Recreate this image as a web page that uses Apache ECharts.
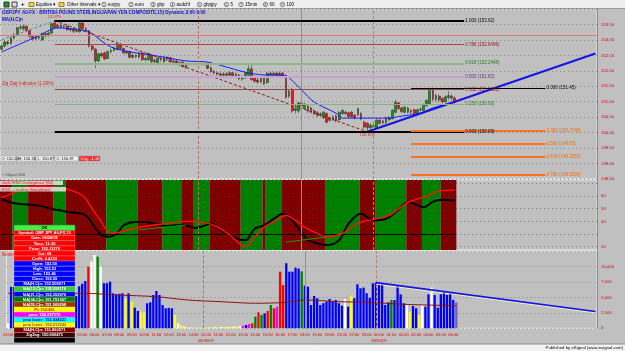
<!DOCTYPE html>
<html>
<head>
<meta charset="utf-8">
<script src="https://cdn.jsdelivr.net/npm/echarts@6/dist/echarts.min.js"></script>
<style>
html, body { margin: 0; padding: 0; background: #c0c0c0; }
#chart { width: 625px; height: 351px; }
</style>
</head>
<body>
<div id="chart"></div>
<script>
// ---- time axis: two sessions of 15 minute bars, then empty future space
const sessionHours = [
    ['23', '00', '01', '02', '03', '04', '05', '06', '07', '08', '09', '10', '11', '12', '13', '14'],
    ['10', '11', '12', '13', '14', '15', '16', '17', '18', '19', '20', '21', '22', '23', '00', '01', '02', '03', '04', '05', '06']
];
const quarters = ['00', '15', '30', '45'];
const dateLabels = ['08/30/09', '08/31/09'];
const futureBars = 45;

// ---- price candles [open, close, low, high]
const candles = [
    [152.70, 152.80, 152.65, 152.86], [152.80, 152.93, 152.76, 152.98], [152.93, 152.88, 152.82, 152.97], [152.88, 153.06, 152.85, 153.10],
    [153.06, 153.16, 153.02, 153.22], [153.16, 153.39, 153.12, 153.42], [153.39, 153.42, 153.32, 153.48], [153.36, 153.44, 153.30, 153.50],
    [153.44, 153.30, 153.26, 153.47], [153.30, 153.12, 153.06, 153.33], [153.12, 153.03, 152.98, 153.16], [153.03, 153.10, 153.00, 153.16],
    [153.10, 153.06, 153.00, 153.14], [153.00, 153.20, 152.97, 153.24], [153.20, 153.14, 153.08, 153.24], [153.14, 153.22, 153.10, 153.28],
    [153.22, 153.52, 153.20, 153.55], [153.55, 153.40, 153.36, 153.62], [153.40, 153.48, 153.36, 153.53], [153.48, 153.42, 153.36, 153.52],
    [153.42, 153.45, 153.38, 153.50], [153.45, 153.33, 153.30, 153.48], [153.33, 153.36, 153.26, 153.40], [153.36, 153.28, 153.22, 153.40],
    [153.28, 153.30, 153.24, 153.36], [153.26, 153.55, 153.24, 153.60], [153.55, 153.36, 153.32, 153.58], [153.36, 153.30, 153.25, 153.42],
    [153.30, 152.80, 152.75, 153.32], [152.80, 152.70, 152.62, 152.86], [152.70, 152.32, 152.09, 152.74], [152.32, 152.55, 152.28, 152.58],
    [152.55, 152.48, 152.43, 152.60], [152.58, 152.38, 152.35, 152.62], [152.40, 152.62, 152.38, 152.66], [152.62, 152.66, 152.56, 152.72],
    [152.66, 152.74, 152.62, 152.78], [152.70, 152.86, 152.66, 152.92], [152.86, 152.72, 152.68, 152.90], [152.72, 152.58, 152.54, 152.76],
    [152.58, 152.62, 152.52, 152.66], [152.62, 152.44, 152.40, 152.66], [152.44, 152.50, 152.40, 152.56], [152.50, 152.46, 152.40, 152.54],
    [152.44, 152.58, 152.40, 152.62], [152.58, 152.36, 152.32, 152.60], [152.36, 152.40, 152.30, 152.44], [152.36, 152.56, 152.32, 152.60],
    [152.50, 152.30, 152.24, 152.54], [152.30, 152.34, 152.22, 152.40], [152.26, 152.40, 152.22, 152.44], [152.40, 152.36, 152.30, 152.45],
    [152.30, 152.44, 152.26, 152.48], [152.44, 152.38, 152.32, 152.48], [152.42, 152.30, 152.26, 152.45], [152.30, 152.32, 152.24, 152.38],
    [152.32, 152.26, 152.20, 152.36], [152.26, 152.24, 152.18, 152.30], [152.28, 152.14, 152.10, 152.32], [152.20, 152.10, 152.06, 152.24],
    [152.20, 152.21, 152.17, 152.25], [152.21, 152.22, 152.18, 152.25], [152.22, 152.21, 152.19, 152.24], [152.21, 152.22, 152.19, 152.25],
    [152.22, 152.22, 152.18, 152.26], [152.22, 152.20, 152.17, 152.25], [152.22, 152.08, 152.05, 152.26], [152.10, 151.96, 151.93, 152.14],
    [151.98, 151.93, 151.88, 152.04], [151.93, 151.90, 151.84, 151.98], [151.90, 151.86, 151.80, 151.96], [151.86, 151.90, 151.82, 151.96],
    [151.90, 151.86, 151.82, 151.96], [151.86, 151.94, 151.84, 151.98], [151.94, 151.84, 151.80, 151.96], [151.84, 151.90, 151.78, 151.94],
    [151.86, 151.74, 151.70, 151.90], [151.74, 151.80, 151.68, 151.84], [151.77, 151.93, 151.74, 151.96], [151.86, 152.07, 151.84, 152.18],
    [152.06, 151.72, 151.68, 152.19], [151.80, 151.66, 151.62, 151.84], [151.70, 151.64, 151.58, 151.80], [151.64, 151.80, 151.60, 151.84],
    [151.77, 151.58, 151.54, 151.80], [151.62, 151.92, 151.58, 151.96], [151.92, 151.88, 151.82, 151.98], [151.88, 151.92, 151.84, 151.98],
    [151.92, 151.86, 151.78, 151.97], [151.86, 151.92, 151.82, 151.98], [151.92, 151.82, 151.78, 151.96], [151.85, 151.14, 151.10, 151.88],
    [151.18, 151.34, 151.12, 151.40], [151.40, 150.70, 150.64, 151.44], [150.72, 150.78, 150.62, 150.92], [150.70, 150.96, 150.63, 151.00],
    [150.96, 150.86, 150.82, 151.00], [150.78, 150.92, 150.74, 150.96], [150.86, 150.70, 150.64, 150.90], [150.80, 150.66, 150.62, 150.84],
    [150.70, 150.62, 150.56, 150.76], [150.64, 150.56, 150.50, 150.70], [150.56, 150.60, 150.52, 150.66], [150.48, 150.66, 150.44, 150.70],
    [150.62, 150.34, 150.30, 150.66], [150.40, 150.48, 150.36, 150.52], [150.50, 150.44, 150.38, 150.56], [150.54, 150.38, 150.34, 150.58],
    [150.42, 150.66, 150.40, 150.70], [150.62, 150.72, 150.58, 150.76], [150.66, 150.62, 150.56, 150.72], [150.64, 150.52, 150.48, 150.68],
    [150.66, 150.52, 150.46, 150.70], [150.56, 150.48, 150.42, 150.60], [150.58, 150.78, 150.54, 150.80], [150.62, 150.44, 150.40, 150.66],
    [150.34, 150.18, 150.12, 150.38], [150.30, 150.16, 150.03, 150.34], [150.16, 150.24, 150.10, 150.30], [150.22, 150.18, 150.08, 150.28],
    [150.16, 150.40, 150.12, 150.44], [150.40, 150.30, 150.26, 150.44], [150.38, 150.32, 150.26, 150.42], [150.32, 150.48, 150.28, 150.52],
    [150.48, 150.42, 150.38, 150.54], [150.46, 150.72, 150.42, 150.76], [150.66, 150.98, 150.62, 151.06], [150.96, 150.78, 150.74, 151.00],
    [150.80, 150.68, 150.64, 150.84], [150.66, 150.82, 150.62, 150.86], [150.80, 150.66, 150.62, 150.84], [150.66, 150.72, 150.60, 150.76],
    [150.74, 150.62, 150.58, 150.78], [150.60, 150.74, 150.56, 150.78], [150.74, 150.76, 150.68, 150.82], [150.72, 150.90, 150.68, 150.94],
    [150.88, 151.04, 150.84, 151.08], [150.94, 151.42, 150.90, 151.45], [151.42, 151.08, 151.02, 151.45], [151.08, 151.20, 151.00, 151.26],
    [151.18, 151.06, 150.98, 151.24], [151.10, 151.00, 150.94, 151.16], [151.00, 151.16, 150.96, 151.20], [151.14, 151.20, 151.06, 151.34],
    [151.18, 151.12, 151.04, 151.24], [151.12, 150.98, 150.94, 151.18]
];

// ---- price overlays, as [bar, price] vertices
const maPoints = [[0, 152.61], [11, 153.09], [18, 153.39], [25, 153.32], [28, 153.26], [35, 152.77], [43, 152.58], [48, 152.51],
    [59, 152.32], [66, 152.28], [79, 151.93], [86, 151.86], [90, 151.86], [92, 151.77], [96, 151.38], [100, 150.99], [107, 150.63],
    [109, 150.47], [115, 150.47], [124, 150.47], [127, 150.52], [134, 150.63], [138, 150.80], [145, 150.99]];
const zigzagPrev = [[0, 153.00], [17, 153.62]];
const zigzagLeg = [[17, 153.62], [117, 150.03]];
const zigzagTexts = ['51.07%', '150.30%'];
const priceTrend = [[117, 150.03], [190, 152.56]];
const priorHigh = 153.16;

// ---- fibonacci retracements
const fibLeftRange = [17, 148];
const fibLeftRatios = ['1.000', '0.786', '0.618', '0.500', '0.382', '0.250', '0.000'];
const fibLeftPrices = [153.62, 152.8496, 152.2448, 151.82, 151.3952, 150.93, 150.03];
const fibRightRange = [131, 174];
const fibRightRatios = ['0.000', '0.382', '0.500', '0.618', '0.786'];
const fibRightPrices = [151.45, 150.0748, 149.65, 149.2252, 148.6294];

// ---- RSX panel
const rsxBlack = [[0, 57.6], [3, 54.9], [6, 53.7], [10, 52.9], [13, 51.8], [16, 49.8], [19, 48.5], [22, 47.2], [26, 45.9], [28, 42.0],
    [30, 34.3], [32, 29.1], [34, 27.8], [37, 30.4], [39, 36.8], [43, 39.4], [46, 39.4], [49, 38.2], [53, 36.3], [58, 37.4], [62, 34.8],
    [65, 36.8], [67, 38.2], [70, 33.0], [75, 26.5], [78, 25.2], [81, 34.3], [84, 36.8], [87, 42.0], [90, 45.9], [93, 40.7], [96, 31.0],
    [98, 25.2], [101, 22.6], [104, 21.3], [108, 25.2], [111, 38.2], [115, 45.9], [117, 43.3], [119, 40.7], [123, 42.0], [126, 47.2],
    [130, 54.9], [133, 52.9], [135, 51.1], [138, 55.5], [141, 57.0], [145, 56.41]];
const rsxRed = [[0, 58.8], [4, 62.7], [7, 66.6], [11, 67.9], [16, 67.4], [21, 65.3], [26, 60.1], [29, 49.8], [32, 39.4], [35, 30.4],
    [38, 31.6], [43, 34.8], [48, 36.8], [53, 38.2], [59, 40.0], [64, 39.4], [68, 36.8], [73, 29.1], [78, 20.0], [81, 27.8], [84, 35.5],
    [87, 39.4], [91, 44.6], [94, 40.7], [97, 35.5], [100, 31.6], [104, 27.8], [109, 30.4], [112, 35.5], [115, 39.4], [119, 41.5],
    [124, 44.6], [127, 49.8], [130, 54.9], [133, 57.6], [136, 59.6], [140, 64.0], [145, 64.61]];
// first bar of each trend zone, and whether the zone is bullish
const zoneStarts = [0, 4, 9, 17, 21, 34, 44, 52, 58, 62, 67, 77, 84, 85, 90, 104, 115, 120, 130, 135, 141];
const zoneBull = [0, 1, 0, 1, 0, 1, 0, 1, 0, 1, 0, 1, 0, 1, 0, 1, 0, 1, 0, 1, 0];
const rsxLevels = [20, 30, 40, 50, 60, 70];
const rsxTicks = [20, 40, 50, 60];
const divergences = [[[44, 33.3], [59, 37.2]], [[91, 23.6], [106, 28.3]]];

// ---- volume panel
const volumes = [800, 6700, 6700, 6900, 9200, 6200, 5400, 8000, 6600, 5200, 4800, 6100, 5600, 7200, 5900, 6800, 8200, 9400, 7600, 6400,
    5800, 6000, 5200, 6800, 7200, 7650, 9970, 10800, 11860, 11590, 9970, 7280, 7280, 7540, 5660, 5500, 5580, 5660, 4850, 5660,
    4300, 3340, 2800, 2690, 2590, 4050, 4200, 5390, 6040, 5390, 3770, 3240, 3300, 3240, 2150, 810, 530, 260, 150, 120,
    80, 60, 100, 90, 150, 120, 200, 180, 160, 220, 240, 200, 260, 300, 320, 380, 420, 530, 700, 800,
    1880, 2590, 2150, 2430, 2800, 3770, 3240, 3500, 9160, 7010, 10520, 9160, 9160, 9800, 9650, 9210, 6900, 6730, 3770, 5230,
    4850, 3770, 4050, 4300, 4740, 4420, 4580, 4050, 3660, 4740, 3500, 5280, 4850, 7120, 6470, 6580, 5660, 4950, 7280, 7380,
    7120, 7120, 3770, 4200, 4580, 4580, 6900, 5500, 4050, 3770, 2690, 3610, 3240, 2150, 3770, 3500, 5500, 6580, 5390, 3340,
    5500, 5990, 5390, 5660, 4600, 4200];
const volKinds = 'wbbbgbbbbbbbbbbbbbbbbbbbbbrwwgwbbbbbbbybybbyybbbbbbbbbywywywywywywywywywywywmbmrgrgbrgrmrrbbbbbgbbbbbbbbbbbbbwbybbbbbbbbbbbbgbbbbwybbywbbwbbbbbbb';
const volMaPoints = [[0, 5660], [25, 5660], [35, 5390], [48, 5110], [58, 4580], [69, 4300], [80, 4050], [90, 4200], [96, 4580],
    [107, 4300], [117, 4200], [128, 3880], [145, 3647.93]];
const volTrend = [[119, 7380], [190, 2720]];
const volTrendShadow = [[119, 7150], [190, 2500]];

// ---- cursor readout window
const popupRows = [
    ['Symbol: GBP JPY A0-FX,15', '#ff0000', '#ffffff'], ['Date: 08/28/09', '#ff0000', '#ffffff'],
    ['Time: 11:30', '#ff0000', '#ffffff'], ['Price: 152.11270', '#ff0000', '#ffffff'],
    ['Cnt: 69', '#ff0000', '#ffffff'], ['Cnt%: 0.4223', '#ff0000', '#ffffff'],
    ['Open: 152.50', '#0000ff', '#ffffff'], ['High: 152.53', '#0000ff', '#ffffff'],
    ['Low: 152.46', '#0000ff', '#ffffff'], ['Close: 152.50', '#0000ff', '#ffffff'],
    ['MA(H,C)n: 152.508571', '#0000ff', '#ffffff'], ['MA(13,C)n: 152.591176', '#33cc33', '#ffffff'],
    ['MA(21,C)n: 152.352976', '#0000ff', '#ffffff'], ['MA(34,C)n: 151.751367', '#007700', '#ffffff'],
    ['MA(55,C)n: 151.569298', '#993300', '#ffffff'], ['Pi: 152.461', '#ffff00', '#ff0000'],
    ['pma: 152.537176', '#ff00ff', '#ffffff'], ['pma lower: 152.834023', '#00ffff', '#000080'],
    ['pma lower: 152.613542', '#ffff00', '#806000'], ['MA(H,C)n: 151.860571', '#800000', '#ffffff'],
    ['ZigZag: 150.690473', '#400000', '#ffffff'], ['', '#000000', '#ffffff']
];
const ohlcStrip = ['O: 150.24', 'H: 150.26', 'L: 150.87', 'C: 150.87', 'Chg: -1.36'];
const toolbarItems = ['eurjpy', 'euro', 'gbp', 'audchf', 'gbpjpy', '5', '15min', '60', '100'];

// ---------------------------------------------------------------------------
const FONT = 'Liberation Sans, Arial, sans-serif';
const RED_TXT = '#dd0000';

// Build categories
const categories = [];
sessionHours.forEach(hours => hours.forEach(h => quarters.forEach(q => categories.push(h + ':' + q))));
categories.length = candles.length;
const session2 = sessionHours[0].length * 4;
const midnight = categories.indexOf('00:00', session2);
const dateAt = {};
dateAt[session2] = dateLabels[0];
dateAt[midnight] = dateLabels[1];
for (let i = 0; i < futureBars; i++) categories.push('');

const sessionBreak = session2 - 1;
const dayLine = midnight - 1;
const cursorBar = 96;
const lastIdx = candles.length - 1;

// vertical separators used in every panel
function verticalMarks() {
    return [
        { xAxis: sessionBreak, lineStyle: { type: [3, 2], color: '#b86a6a', width: 1 }, label: { show: false } },
        { xAxis: dayLine, lineStyle: { type: [3, 2], color: '#b08080', width: 1 }, label: { show: false } },
        { xAxis: cursorBar, lineStyle: { type: 'solid', color: '#a08c8c', width: 1 }, label: { show: false } }
    ];
}

// coloured value box on the right axis
function axisBox(value, text, bg, fg, dist) {
    return {
        yAxis: value,
        lineStyle: { opacity: 0 },
        label: {
            show: true, position: 'end', formatter: text, backgroundColor: bg, color: fg || '#ffffff',
            fontSize: 4.3, fontFamily: FONT, padding: [1, 1, 0, 1], distance: dist || 1
        }
    };
}

function fibLine(range, price, ratio, color, width, labelColor) {
    return [
        {
            coord: [range[0], price],
            lineStyle: { color: color, width: width, type: 'solid' },
            label: {
                show: true, position: 'end', formatter: ratio + ' (' + price + ')', color: labelColor,
                fontSize: 4.5, fontFamily: FONT, padding: [0, 0, 6, 0], distance: 1
            }
        },
        { coord: [range[1], price] }
    ];
}

const fibLeftStyles = [
    ['#000000', 2, '#000000'], ['#a04848', 1, '#8b1a1a'], ['#86ba86', 2, '#2a7a2a'], ['#c8a0d2', 2, '#7a2a8a'],
    ['#904848', 1, '#8b1a1a'], ['#86b086', 1.2, '#2a7a2a'], ['#000000', 2, '#000000']
];
const fibMarks = [];
fibLeftPrices.forEach((p, i) => fibMarks.push(fibLine(fibLeftRange, p, fibLeftRatios[i], fibLeftStyles[i][0], fibLeftStyles[i][1], fibLeftStyles[i][2])));
fibRightPrices.forEach((p, i) => {
    const black = fibRightRatios[i] === '0.000';
    fibMarks.push(fibLine(fibRightRange, p, fibRightRatios[i], black ? '#000000' : '#ff7020', black ? 1 : 2, black ? '#000000' : '#ff6a00'));
});

const volColorMap = { b: '#0000ff', w: '#ffffff', y: '#ffff00', r: '#ff0000', g: '#008000', m: '#ff00ff' };
const volumeData = volumes.map((v, i) => ({ value: v, itemStyle: { color: volColorMap[volKinds[i]] } }));

// zones as [firstBar, lastBar, bullish]
const zoneData = zoneStarts.map((s, k) => [s, k + 1 < zoneStarts.length ? zoneStarts[k + 1] - 1 : lastIdx, zoneBull[k]]);

const fmtThousands = v => Math.round(v).toString().replace(/\B(?=(\d{3})+(?!\d))/g, ',');

const xBase = {
    type: 'category', data: categories, boundaryGap: true,
    axisLine: { show: false }, axisTick: { show: false }, splitLine: { show: false }
};
const dotted = { show: true, lineStyle: { color: '#8c8c8c', type: [1, 3], width: 1 } };
const yLabel = { color: RED_TXT, fontSize: 4.3, fontFamily: FONT, margin: 4 };
const yLine = { show: true, lineStyle: { color: '#e06464', width: 1 } };

// ---- graphics: toolbar, title texts, readout window, footer
const graphics = [];
graphics.push({ type: 'rect', shape: { x: 0, y: 0, width: 625, height: 9 }, style: { fill: '#eeeeee' }, z: 50 });
graphics.push({ type: 'line', shape: { x1: 0, y1: 8.5, x2: 625, y2: 8.5 }, style: { stroke: '#9a9a9a', lineWidth: 1 }, z: 50 });
graphics.push({ type: 'rect', shape: { x: 4, y: 2, width: 5, height: 5 }, style: { fill: '#2f8f2f', stroke: '#204020' }, z: 51 });
graphics.push({ type: 'rect', shape: { x: 12, y: 2, width: 5, height: 5 }, style: { fill: '#dddddd', stroke: '#404040' }, z: 51 });
graphics.push({ type: 'text', x: 21, y: 4.5, style: { text: '+', font: 'bold 6px ' + FONT, fill: '#000', verticalAlign: 'middle' }, z: 51 });
graphics.push({ type: 'rect', shape: { x: 29, y: 2.5, width: 5, height: 4 }, style: { fill: '#f0d050', stroke: '#a08020' }, z: 51 });
graphics.push({ type: 'text', x: 36, y: 4.5, style: { text: 'Equities \u25BE', font: '4.5px ' + FONT, fill: '#000', verticalAlign: 'middle' }, z: 51 });
graphics.push({ type: 'rect', shape: { x: 59, y: 2.5, width: 5, height: 4 }, style: { fill: '#f0d050', stroke: '#a08020' }, z: 51 });
graphics.push({ type: 'text', x: 67, y: 4.5, style: { text: 'Other Intervals \u25BE', font: '4.5px ' + FONT, fill: '#000', verticalAlign: 'middle' }, z: 51 });
let tx = 104;
toolbarItems.forEach((t, i) => {
    graphics.push({ type: 'circle', shape: { cx: tx, cy: 4.5, r: 2.2 }, style: { fill: '#ffffff', stroke: '#303030', lineWidth: 0.6 }, z: 51 });
    graphics.push({ type: 'text', x: tx, y: 4.6, style: { text: String(i + 1), font: '3.5px ' + FONT, fill: '#000', align: 'center', verticalAlign: 'middle' }, z: 52 });
    graphics.push({ type: 'text', x: tx + 4, y: 4.5, style: { text: t, font: '4.5px ' + FONT, fill: '#000', verticalAlign: 'middle' }, z: 51 });
    tx += 4 + t.length * 2.5 + 8;
});
graphics.push({ type: 'text', x: 2, y: 13, style: { text: 'GBPJPY A0-FX - BRITISH POUND STERLING/JAPAN YEN COMPOSITE,15) Dynamic,0:00-0:00', font: 'bold 4.6px ' + FONT, fill: '#1010d0', verticalAlign: 'middle' }, z: 40 });
graphics.push({ type: 'text', x: 2, y: 19.5, style: { text: 'MA(H,C)n', font: 'bold 4.6px ' + FONT, fill: '#1010d0', verticalAlign: 'middle' }, z: 40 });
graphics.push({ type: 'text', x: 2, y: 83.5, style: { text: 'Zig Zag Indicator (1.00%)', font: '4.6px ' + FONT, fill: '#e02020', verticalAlign: 'middle' }, z: 40 });
graphics.push({ type: 'text', x: 2, y: 175.5, style: { text: '\u00A9 eSignal 2008', font: '3.4px ' + FONT, fill: '#505050', verticalAlign: 'middle' }, z: 40 });

const stripWidths = [17, 19, 19, 24, 22];
let sx = 0;
ohlcStrip.forEach((t, i) => {
    const last = i === ohlcStrip.length - 1;
    graphics.push({ type: 'rect', shape: { x: sx, y: 156, width: stripWidths[i] - 1, height: 5 }, style: { fill: last ? '#ff2020' : '#f4f4f4', stroke: '#9a9a9a', lineWidth: 0.5 }, z: 40 });
    graphics.push({ type: 'text', x: sx + 1.5, y: 158.7, style: { text: t, font: '4px ' + FONT, fill: last ? '#ffffff' : '#000000', verticalAlign: 'middle' }, z: 41 });
    sx += stripWidths[i];
});

graphics.push({ type: 'rect', shape: { x: 0, y: 180.5, width: 63, height: 4.5 }, style: { fill: 'rgba(232,232,232,0.85)' }, z: 40 });
graphics.push({ type: 'text', x: 1.5, y: 182.8, style: { text: 'Jurik RSX Divergence (50)', font: '4.4px ' + FONT, fill: '#e02020', verticalAlign: 'middle' }, z: 41 });
graphics.push({ type: 'rect', shape: { x: 0, y: 187, width: 66, height: 4.5 }, style: { fill: 'rgba(232,232,232,0.85)' }, z: 40 });
graphics.push({ type: 'text', x: 1.5, y: 189.3, style: { text: 'RSX + trailing Smoothed', font: '4.4px ' + FONT, fill: '#e02020', verticalAlign: 'middle' }, z: 41 });
graphics.push({ type: 'text', x: 2, y: 254.5, style: { text: 'Better Volume', font: '4.5px ' + FONT, fill: '#e02020', verticalAlign: 'middle' }, z: 40 });

// readout window
graphics.push({ type: 'rect', shape: { x: 14, y: 225, width: 61, height: 5.5 }, style: { fill: '#44ee44', stroke: '#2a8a2a', lineWidth: 0.6 }, z: 90 });
graphics.push({ type: 'text', x: 44.5, y: 227.9, style: { text: 'OK', font: 'bold 4px ' + FONT, fill: '#000', align: 'center', verticalAlign: 'middle' }, z: 91 });
popupRows.forEach((r, i) => {
    const y = 230.5 + i * 5.1;
    graphics.push({ type: 'rect', shape: { x: 14, y: y, width: 61, height: 5.1 }, style: { fill: r[1], stroke: 'rgba(220,220,220,0.7)', lineWidth: 0.4 }, z: 90 });
    graphics.push({ type: 'text', x: 44.5, y: y + 2.7, style: { text: r[0], font: 'bold 4px ' + FONT, fill: r[2], align: 'center', verticalAlign: 'middle' }, z: 91 });
});

// footer
graphics.push({ type: 'rect', shape: { x: 0, y: 344, width: 625, height: 7 }, style: { fill: '#f2f2f2' }, z: 80 });
graphics.push({ type: 'line', shape: { x1: 0, y1: 344, x2: 625, y2: 344 }, style: { stroke: '#8a8a8a', lineWidth: 1 }, z: 80 });
graphics.push({ type: 'text', x: 623, y: 347.8, style: { text: 'Published by eSignal (www.esignal.com)', font: '4.3px ' + FONT, fill: '#000', align: 'right', verticalAlign: 'middle' }, z: 81 });

// ---------------------------------------------------------------------------
const chart = echarts.init(document.getElementById('chart'));

const option = {
    animation: false,
    backgroundColor: '#c0c0c0',
    grid: [
        { left: 0, right: 28, top: 9, height: 170, show: true, backgroundColor: '#c0c0c0', borderColor: '#ececec', borderWidth: 1 },
        { left: 0, right: 28, top: 180, height: 70, show: true, backgroundColor: '#c0c0c0', borderColor: '#ececec', borderWidth: 1 },
        { left: 0, right: 28, top: 251, height: 77.3, show: true, backgroundColor: '#c0c0c0', borderColor: '#ececec', borderWidth: 1 }
    ],
    xAxis: [
        Object.assign({ gridIndex: 0, show: false }, xBase),
        Object.assign({ gridIndex: 1, show: false }, xBase),
        Object.assign({ gridIndex: 2 }, xBase, {
            axisLabel: {
                color: RED_TXT, fontSize: 4, fontFamily: FONT, margin: 3, lineHeight: 6.5,
                interval: (i, v) => v.slice(3) === '00',
                formatter: (v, i) => dateAt[i] ? v + '\n' + dateAt[i] : v
            }
        })
    ],
    yAxis: [
        {
            gridIndex: 0, type: 'value', position: 'right', min: 148.5, max: 154.0, interval: 0.5,
            axisLine: yLine, axisTick: { show: false }, splitLine: dotted,
            axisLabel: Object.assign({ showMaxLabel: false, formatter: v => v.toFixed(2) }, yLabel)
        },
        {
            gridIndex: 1, type: 'value', position: 'right', min: 17.4, max: 72.6,
            axisLine: yLine, axisTick: { show: false }, splitLine: { show: false },
            axisLabel: Object.assign({ customValues: rsxTicks, formatter: v => String(v) }, yLabel)
        },
        {
            gridIndex: 2, type: 'value', position: 'right', min: 0, max: 12500, interval: 2500,
            axisLine: yLine, axisTick: { show: false }, splitLine: dotted,
            axisLabel: Object.assign({ showMaxLabel: false, formatter: fmtThousands }, yLabel)
        }
    ],
    graphic: graphics,
    series: [
        {
            name: 'Price', type: 'candlestick', xAxisIndex: 0, yAxisIndex: 0, data: candles, barWidth: '72%',
            itemStyle: { color: '#00a800', color0: '#ff1010', borderColor: '#202020', borderColor0: '#202020', borderWidth: 0.5 },
            markLine: {
                silent: true, symbol: ['none', 'none'], animation: false,
                data: [
                    { yAxis: priorHigh, lineStyle: { color: '#e07878', width: 1, type: 'solid' }, label: { show: false } }
                ].concat(verticalMarks())
                    .concat(fibMarks)
                    .concat([axisBox(candles[lastIdx][1], candles[lastIdx][1].toFixed(2), '#ff0000')])
            }
        },
        {
            name: 'MA', type: 'line', xAxisIndex: 0, yAxisIndex: 0, data: maPoints, smooth: 0.3, symbol: 'none',
            lineStyle: { color: '#1a1aff', width: 1 }, z: 3,
            markLine: {
                silent: true, symbol: ['none', 'none'], animation: false,
                data: [axisBox(maPoints[maPoints.length - 1][1], maPoints[maPoints.length - 1][1].toFixed(2), '#0000ff', '#ffffff', 16)]
            }
        },
        {
            name: 'ZigZag prev', type: 'line', xAxisIndex: 0, yAxisIndex: 0, data: zigzagPrev, symbol: 'none',
            lineStyle: { color: '#4a9090', width: 1, type: [3, 2] }
        },
        {
            name: 'ZigZag', type: 'line', xAxisIndex: 0, yAxisIndex: 0, data: zigzagLeg, symbol: 'none',
            lineStyle: { color: '#8b1c1c', width: 1, type: [3, 2] },
            markPoint: {
                silent: true, symbol: 'circle', symbolSize: 1, itemStyle: { color: 'rgba(0,0,0,0)' },
                data: [
                    { coord: zigzagLeg[0], label: { show: true, position: 'top', distance: 1, formatter: zigzagTexts[0], color: '#e02020', fontSize: 3.8, fontFamily: FONT } },
                    { coord: zigzagLeg[1], label: { show: true, position: 'bottom', distance: 1, formatter: zigzagTexts[1], color: '#e02020', fontSize: 3.8, fontFamily: FONT } }
                ]
            },
            markLine: {
                silent: true, symbol: ['none', 'none'], animation: false,
                data: [axisBox(zigzagLeg[1][1], zigzagLeg[1][1].toFixed(2), '#800000')]
            }
        },
        {
            name: 'Trend', type: 'line', xAxisIndex: 0, yAxisIndex: 0, data: priceTrend, symbol: 'none',
            lineStyle: { color: '#1414e6', width: 2 }, z: 4
        },
        {
            name: 'Zones', type: 'custom', xAxisIndex: 1, yAxisIndex: 1, data: zoneData, silent: true,
            encode: { x: [0, 1] },
            renderItem: (params, api) => {
                const a = api.coord([api.value(0), 40]);
                const b = api.coord([api.value(1), 40]);
                const w = api.size([1, 0])[0];
                const cs = params.coordSys;
                return {
                    type: 'rect',
                    shape: { x: a[0] - w / 2, y: cs.y, width: b[0] - a[0] + w, height: cs.height },
                    style: { fill: api.value(2) ? '#008000' : '#800000' }
                };
            },
            markLine: {
                silent: true, symbol: ['none', 'none'], animation: false,
                data: rsxLevels.map(v => ({ yAxis: v, lineStyle: { color: 'rgba(70,70,70,0.55)', type: [1, 3], width: 1 }, label: { show: false } }))
                    .concat(verticalMarks())
                    .concat([[{ coord: [0, 30], lineStyle: { color: '#000000', width: 1, type: 'solid' }, label: { show: false } }, { coord: [lastIdx, 30] }]])
                    .concat(divergences.map(d => [{ coord: d[0], lineStyle: { color: '#10a010', width: 1, type: 'solid' }, label: { show: false } }, { coord: d[1] }]))
            }
        },
        {
            name: 'RSX', type: 'line', xAxisIndex: 1, yAxisIndex: 1, data: rsxBlack, smooth: 0.35, symbol: 'none',
            lineStyle: { color: '#000000', width: 2 }, z: 4,
            markLine: {
                silent: true, symbol: ['none', 'none'], animation: false,
                data: [
                    axisBox(70, '70', '#000000'), axisBox(30, '30', '#000000'),
                    axisBox(rsxBlack[rsxBlack.length - 1][1], rsxBlack[rsxBlack.length - 1][1].toFixed(2), '#000000')
                ]
            }
        },
        {
            name: 'RSX signal', type: 'line', xAxisIndex: 1, yAxisIndex: 1, data: rsxRed, smooth: 0.35, symbol: 'none',
            lineStyle: { color: '#ff1010', width: 1.4 }, z: 5,
            markLine: {
                silent: true, symbol: ['none', 'none'], animation: false,
                data: [axisBox(rsxRed[rsxRed.length - 1][1], rsxRed[rsxRed.length - 1][1].toFixed(2), '#ff0000')]
            }
        },
        {
            name: 'Volume', type: 'bar', xAxisIndex: 2, yAxisIndex: 2, data: volumeData, barWidth: 2.3,
            markLine: {
                silent: true, symbol: ['none', 'none'], animation: false,
                data: verticalMarks().concat([axisBox(volumes[lastIdx], fmtThousands(volumes[lastIdx]), '#0000ff')])
            }
        },
        {
            name: 'Volume MA', type: 'line', xAxisIndex: 2, yAxisIndex: 2, data: volMaPoints, smooth: 0.3, symbol: 'none',
            lineStyle: { color: '#8b1010', width: 1 }, z: 4,
            markLine: {
                silent: true, symbol: ['none', 'none'], animation: false,
                data: [axisBox(volMaPoints[volMaPoints.length - 1][1], '3,647.93', '#800000')]
            }
        },
        {
            name: 'Volume trend shadow', type: 'line', xAxisIndex: 2, yAxisIndex: 2, data: volTrendShadow, symbol: 'none',
            lineStyle: { color: '#f2f2c8', width: 1 }, z: 4
        },
        {
            name: 'Volume trend', type: 'line', xAxisIndex: 2, yAxisIndex: 2, data: volTrend, symbol: 'none',
            lineStyle: { color: '#1414e6', width: 1.6 }, z: 5
        }
    ]
};

chart.setOption(option);
</script>
</body>
</html>
